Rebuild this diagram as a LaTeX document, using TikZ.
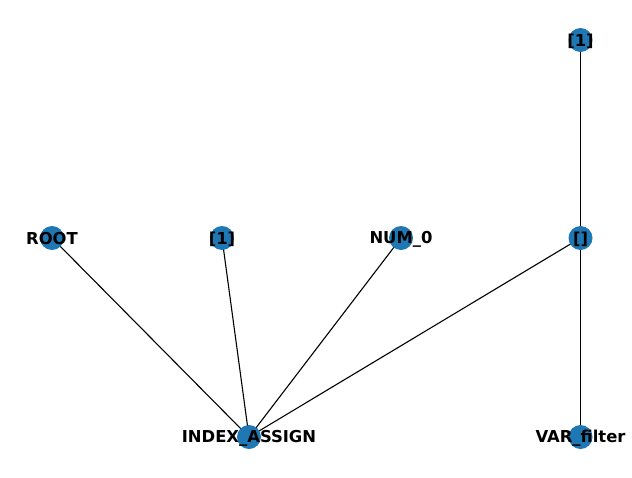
\documentclass[tikz,border=0pt]{standalone}
\usepackage{fontspec}
\setmainfont{DejaVu Sans}
\usetikzlibrary{backgrounds}
\definecolor{nodeblue}{HTML}{1F77B4}
\tikzset{
  vertex/.style={circle, fill=nodeblue, minimum size=24pt, inner sep=0pt},
  lbl/.style={font=\fontsize{16.4}{18}\selectfont\bfseries, inner sep=0pt, yshift=-1pt}
}
\begin{document}
\begin{tikzpicture}[x=1pt,y=-1pt]
		\useasboundingbox (0,0) rectangle (632,477);
		\draw (580.5,40) node [vertex] (T) {};
		\draw (52,238) node [vertex] (R) {};
		\draw (222,238) node [vertex] (O) {};
		\draw (401,238) node [vertex] (N) {};
		\draw (580.5,238) node [vertex] (L) {};
		\draw (249,437) node [vertex] (I) {};
		\draw (580.5,437) node [vertex] (V) {};
		\begin{scope}[on background layer]
		\draw [line width=1.1pt]
		(R.center) edge (I.center)
		(O.center) edge (I.center)
		(N.center) edge (I.center)
		(L.center) edge (I.center)
		(L.center) edge (T.center)
		(L.center) edge (V.center);
		\end{scope}
		\node [lbl] at (T) {[1]};
		\node [lbl] at (R) {ROOT};
		\node [lbl] at (O) {[1]};
		\node [lbl] at (N) {NUM\_0};
		\node [lbl] at (L) {[]};
		\node [lbl] at (I) {INDEX\_ASSIGN};
		\node [lbl] at (V) {VAR\_filter};
	\end{tikzpicture}
\end{document}
